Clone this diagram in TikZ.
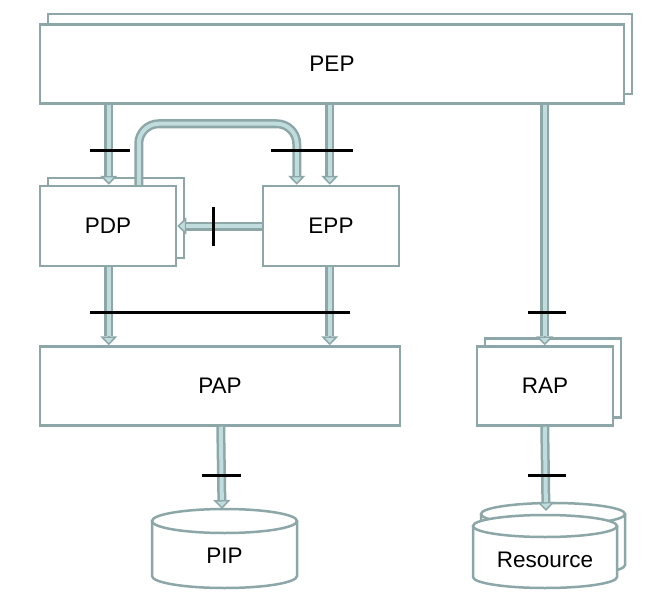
\documentclass[tikz,border=0pt]{standalone}
\usepackage{fontspec}
\setmainfont{Liberation Sans}
\usetikzlibrary{arrows.meta,calc}
\definecolor{edge}{HTML}{8DA7A8}
\definecolor{core}{HTML}{C0DCDD}
\tikzset{
  box/.style={draw=edge, line width=2.5pt, fill=white, inner sep=0pt,
    font=\fontsize{22.5}{26}\selectfont},
  shadowbox/.style={draw=edge, line width=2.5pt, fill=white, inner sep=0pt},
  tipline/.style={draw=edge, line width=1.5pt,
    -{Triangle[width=17pt,length=9pt,fill=core,line width=1.5pt]}},
  shaft/.style={draw=edge, line width=2.5pt, double=core, double distance=4pt, shorten >=9pt},
  tick/.style={draw=black, line width=3pt},
  lbl/.style={font=\fontsize{22.5}{26}\selectfont, inner sep=0pt},
  cyl/.style={draw=edge, line width=2.5pt, fill=white}
}
\newcommand{\flowpath}[1]{\draw[tipline] #1; \draw[shaft] #1;}
\begin{document}
\begin{tikzpicture}[x=1pt,y=-1pt]
\useasboundingbox (0,0) rectangle (662,610);
% back boxes
\node[shadowbox, minimum width=584pt, minimum height=80pt] (pepb) at (340,54) {};
\node[shadowbox, minimum width=136pt, minimum height=80pt] (pdpb) at (116,218) {};
\node[shadowbox, minimum width=136pt, minimum height=79pt] (rapb) at (553,378) {};
% front boxes
\node[box, minimum width=584pt, minimum height=79pt] (pep) at (332,64) {PEP};
\node[box, minimum width=136pt, minimum height=80pt] (pdp) at (108,226) {PDP};
\node[box, minimum width=136pt, minimum height=80pt] (epp) at (331,226) {EPP};
\node[box, minimum width=360pt, minimum height=79pt] (pap) at (220,386) {PAP};
\node[box, minimum width=136pt, minimum height=79pt] (rap) at (545,386) {RAP};
% cylinders
\draw[cyl] (152,521) -- (152,576) arc[start angle=180,end angle=0,x radius=72.5,y radius=12] -- (297,521);
\draw[cyl] (224.5,521) ellipse[x radius=72.5,y radius=12];
\draw[cyl] (481,514) -- (481,565) arc[start angle=180,end angle=0,x radius=72,y radius=11] -- (625,514);
\draw[cyl] (553,514) ellipse[x radius=72,y radius=11];
\draw[cyl] (473,526) -- (473,577) arc[start angle=180,end angle=0,x radius=72,y radius=11] -- (617,526);
\draw[cyl] (545,526) ellipse[x radius=72,y radius=11];
\node[lbl] (pip) at (224.5,556) {PIP};
\node[lbl] (res) at (545,560) {Resource};
\coordinate (piptop) at (222,509);
\coordinate (restop) at (546,511);
% connectors
\flowpath{($(pep.south west)+(70,0)$) -- ($(pdp.north west)+(70,0)$)}
\flowpath{($(pep.south west)+(291,0)$) -- ($(epp.north west)+(68,0)$)}
\flowpath{($(pep.south west)+(506,0)$) -- ($(rap.north west)+(69,0)$)}
\flowpath{[rounded corners=20pt] ($(pdp.north west)+(100,0)$) -- ++(0,-61) -- ++(158,0) -- ($(epp.north west)+(35,0)$)}
\flowpath{(epp.west) -- (pdp.east)}
\flowpath{($(pdp.south west)+(70,0)$) -- ($(pap.north west)+(70,0)$)}
\flowpath{($(epp.south west)+(68,0)$) -- ($(pap.north west)+(291,0)$)}
\flowpath{($(pap.south west)+(182,0)$) -- (piptop)}
\flowpath{($(rap.south west)+(69,0)$) -- (restop)}
% ticks
\draw[tick] (90,150) -- (130,150);
\draw[tick] (271,150) -- (353,150);
\draw[tick] (213,207) -- (213,246);
\draw[tick] (90,312) -- (350,312);
\draw[tick] (528,312) -- (566,312);
\draw[tick] (202,475) -- (241,475);
\draw[tick] (528,475) -- (566,475);
\end{tikzpicture}
\end{document}
